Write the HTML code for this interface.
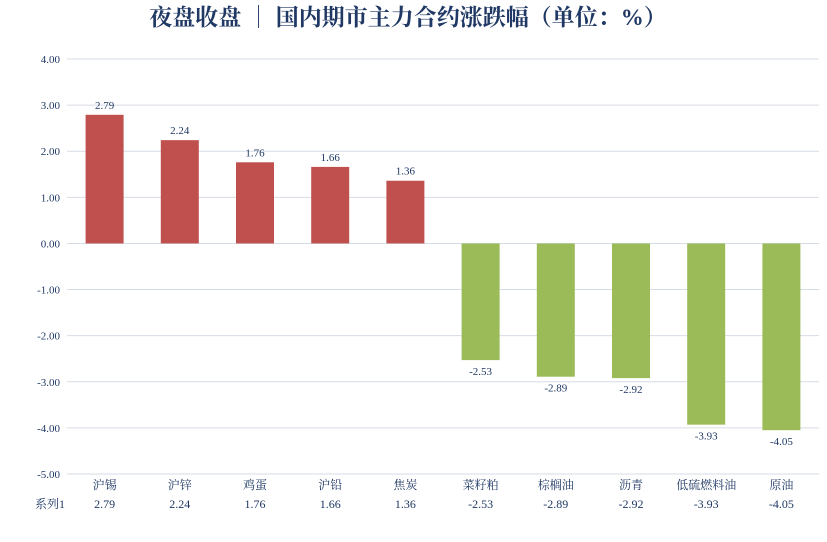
<!DOCTYPE html>
<html><head><meta charset="utf-8"><style>
body{margin:0;background:#fff;width:827px;height:537px;overflow:hidden}
svg text{font-family:"Liberation Serif","Noto Serif CJK SC",serif;fill:#1f3864}
</style></head><body>
<svg id="c" width="827" height="537">
<text x="408" y="25" text-anchor="middle" font-size="23" font-weight="bold">夜盘收盘 ｜ 国内期市主力合约涨跌幅（单位：%）</text>
<g id="grid"></g><g id="bars"></g><g id="tbl"></g>
</svg>
<script>
const categories=["沪锡","沪锌","鸡蛋","沪铅","焦炭","菜籽粕","棕榈油","沥青","低硫燃料油","原油"];
const values=[2.79,2.24,1.76,1.66,1.36,-2.53,-2.89,-2.92,-3.93,-4.05];
const ticks=[4,3,2,1,0,-1,-2,-3,-4,-5];
const NS="http://www.w3.org/2000/svg";
const x0=67,x1=819,yTop=59,yBot=474,vMax=4,vMin=-5;
const y=v=>yTop+(vMax-v)/(vMax-vMin)*(yBot-yTop);
const step=(x1-x0)/categories.length;
const xc=i=>x0+step*(i+0.5);
function mk(t,a,p,txt){const e=document.createElementNS(NS,t);for(const k in a)e.setAttribute(k,a[k]);if(txt!=null)e.textContent=txt;p.appendChild(e);return e;}
const g=document.getElementById('grid'),b=document.getElementById('bars'),tb=document.getElementById('tbl');
ticks.forEach(v=>{
 const l=mk('line',{x1:x0,x2:x1,y1:y(v),y2:y(v),stroke:'#d6dce6','stroke-width':1},g);
 
 
 const t=mk('text',{x:60,y:y(v)+4,'text-anchor':'end','font-size':11},g,v.toFixed(2));
 
 
});
values.forEach((v,i)=>{
 const w=38,top=v>=0?y(v):y(0),h=Math.abs(y(v)-y(0));
 const r=mk('rect',{x:xc(i)-w/2,y:top,width:w,height:h,fill:v>=0?'#c0504d':'#9bbb59'},b);
 
 
 const ly=v>=0?y(v)-6:y(v)+15;
 const t=mk('text',{x:xc(i),y:ly,'text-anchor':'middle','font-size':11},b,v.toFixed(2));
 
 
 const c=mk('text',{x:xc(i),y:489,'text-anchor':'middle','font-size':12},tb,categories[i]);
 
 
 const d=mk('text',{x:xc(i),y:508,'text-anchor':'middle','font-size':12},tb,v.toFixed(2));
 
 
});
const s=mk('text',{x:35,y:508,'font-size':12},tb,'系列1');


</script>
</body></html>
